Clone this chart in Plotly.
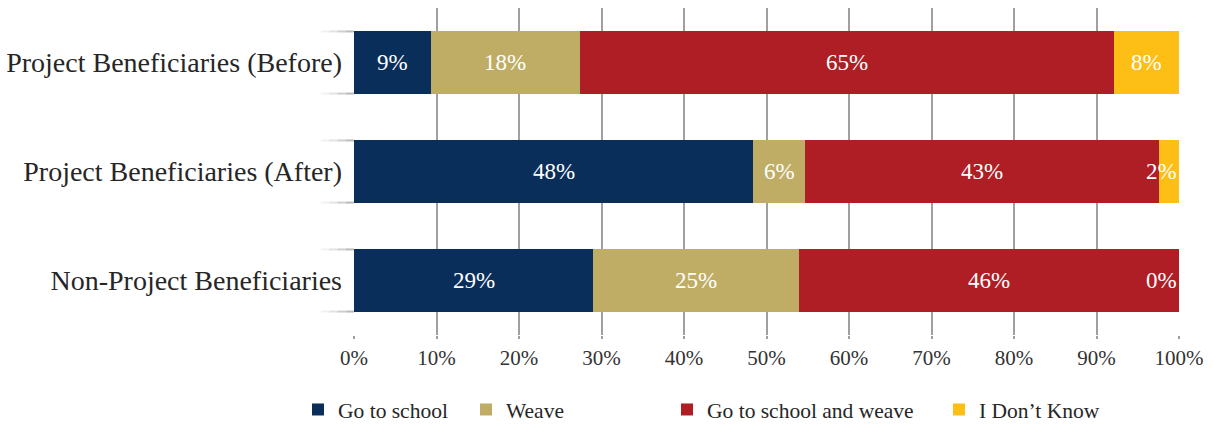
import plotly.graph_objects as go

categories = ["Project Beneficiaries (Before)", "Project Beneficiaries (After)", "Non-Project Beneficiaries"]
series_names = ["Go to school", "Weave", "Go to school and weave", "I Don\u2019t Know"]
go_to_school = [9.3, 48.4, 29.0]
weave = [18.1, 6.3, 24.9]
school_and_weave = [64.7, 42.9, 46.1]
dont_know = [7.9, 2.4, 0.0]
colors = ["#0A2E5A", "#BFAD66", "#AE1E24", "#FDBF15"]
x_ticks = [0, 10, 20, 30, 40, 50, 60, 70, 80, 90, 100]
x_tick_labels = [f"{t}%" for t in x_ticks]

series = [go_to_school, weave, school_and_weave, dont_know]
FONT = "Liberation Serif"

# plot area in pixels (for placing the separate legend boxes)
W, H = 1214, 426
PL, PR, PT, PB = 354, 1179, 8, 335
legend_text_px = [339, 507, 708, 980]
legend_ids = ["legend", "legend2", "legend3", "legend4"]

fig = go.Figure()
for name, vals, col, lid in zip(series_names, series, colors, legend_ids):
    fig.add_trace(go.Bar(
        y=categories, x=vals, name=name, orientation="h",
        marker=dict(color=col, line=dict(width=0)),
        hoverinfo="x+name", legend=lid,
    ))

# data labels as annotations (computed from the data)
annotations = []
for ci, cat in enumerate(categories):
    start = 0.0
    for si, vals in enumerate(series):
        v = vals[ci]
        label = f"{round(v):.0f}%"
        if si == len(series) - 1 and v < 5:
            ax, anchor = start + v, "right"
        else:
            ax, anchor = start + v / 2, "center"
        annotations.append(dict(
            x=ax, y=cat, xref="x", yref="y", text=label, showarrow=False,
            xanchor=anchor, yanchor="middle",
            font=dict(family=FONT, size=23, color="#FFFFFF"),
        ))
        start += v

# faded tick marks at bar edges on the category axis
shapes = []
bar_half = 0.285
steps = [(-0.040, -0.030, 0.15), (-0.030, -0.020, 0.35), (-0.020, -0.010, 0.6), (-0.010, 0.0, 0.85)]
for ci in range(len(categories)):
    for edge in (ci - bar_half, ci + bar_half):
        for x0, x1, op in steps:
            shapes.append(dict(type="line", xref="paper", yref="y", x0=x0, x1=x1,
                               y0=edge, y1=edge, line=dict(color="#B0B0B0", width=2),
                               opacity=op, layer="below"))

plot_h = PB - PT
legend_common = dict(orientation="h", xanchor="left", yanchor="bottom",
                     y=-(H + 4 - PB) / plot_h,
                     font=dict(family=FONT, size=21.5, color="#262626"),
                     bgcolor="rgba(0,0,0,0)", itemwidth=30)
legends = {}
for lid, tpx in zip(legend_ids, legend_text_px):
    legends[lid] = dict(legend_common, x=(tpx - 41 - PL) / (PR - PL))

fig.update_layout(
    barmode="stack",
    bargap=0.43,
    width=W, height=H,
    margin=dict(l=PL, r=W - PR, t=PT, b=H - PB, autoexpand=False),
    paper_bgcolor="white", plot_bgcolor="white",
    font=dict(family=FONT, color="#262626"),
    showlegend=True,
    annotations=annotations,
    shapes=shapes,
    **legends,
)
fig.update_xaxes(
    range=[0, 100], tickvals=x_ticks, ticktext=x_tick_labels,
    showgrid=True, gridcolor="#A0A0A0", gridwidth=1.5,
    ticks="outside", ticklen=3, tickcolor="#A0A0A0", tickwidth=1.5,
    ticklabelstandoff=1,
    zeroline=False, showline=False,
    tickfont=dict(family=FONT, size=21, color="#333333"),
    fixedrange=True,
)
fig.update_yaxes(
    categoryorder="array", categoryarray=categories,
    range=[2.5, -0.5], autorange=False,
    showgrid=False, zeroline=False, showline=False, ticks="",
    ticklabelstandoff=11,
    tickfont=dict(family=FONT, size=28, color="#262626"),
    fixedrange=True,
)

fig.write_html("out.html")
